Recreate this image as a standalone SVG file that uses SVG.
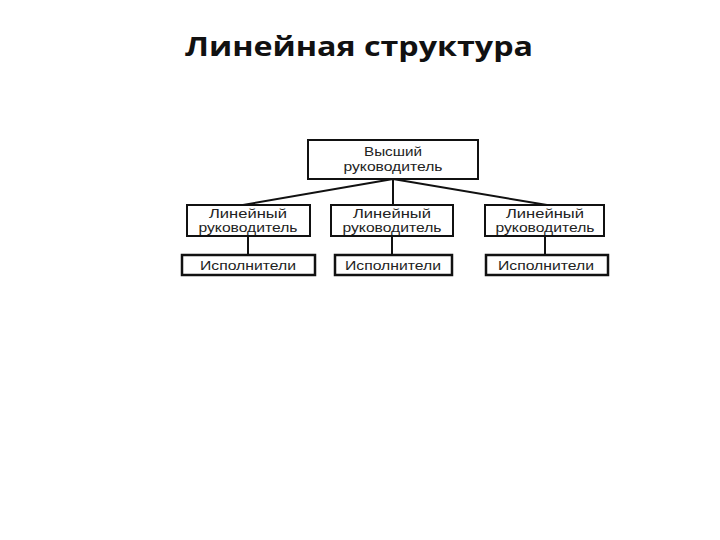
<svg xmlns="http://www.w3.org/2000/svg" width="720" height="540" viewBox="0 0 720 540">
<style>
.box{fill:#fff;stroke:#111;stroke-width:2}
.box2{fill:#fff;stroke:#111;stroke-width:2.5}
.t{font-family:"Liberation Sans",Arial,sans-serif;font-size:12.5px;fill:#222;text-anchor:middle}
.ttl{font-family:"Open Sans","Liberation Sans",sans-serif;font-size:27px;font-weight:bold;fill:#111;text-anchor:middle}
.c{stroke:#111;stroke-width:2;fill:none}
</style>
<rect width="720" height="540" fill="#fff"/>
<text class="ttl" x="359" y="56" textLength="348" lengthAdjust="spacingAndGlyphs">Линейная структура</text>
<g id="connectors">
<line class="c" x1="393" y1="179" x2="243" y2="205"/>
<line class="c" x1="393" y1="179" x2="393" y2="205"/>
<line class="c" x1="393" y1="179" x2="547" y2="205"/>
<line class="c" x1="248" y1="236" x2="248" y2="255"/>
<line class="c" x1="392" y1="236" x2="392" y2="255"/>
<line class="c" x1="545" y1="236" x2="545" y2="255"/>
</g>
<g id="top">
<rect class="box" x="308" y="140" width="170" height="39"/>
<text class="t" x="393" y="156" textLength="58" lengthAdjust="spacingAndGlyphs">Высший</text>
<text class="t" x="393" y="171" textLength="99" lengthAdjust="spacingAndGlyphs">руководитель</text>
</g>
<g id="mid1">
<rect class="box" x="187" y="205" width="123" height="31"/>
<text class="t" x="248" y="218" textLength="78" lengthAdjust="spacingAndGlyphs">Линейный</text>
<text class="t" x="248" y="232" textLength="99" lengthAdjust="spacingAndGlyphs">руководитель</text>
</g>
<g id="mid2">
<rect class="box" x="331" y="205" width="122" height="31"/>
<text class="t" x="392" y="218" textLength="78" lengthAdjust="spacingAndGlyphs">Линейный</text>
<text class="t" x="392" y="232" textLength="99" lengthAdjust="spacingAndGlyphs">руководитель</text>
</g>
<g id="mid3">
<rect class="box" x="485" y="205" width="119" height="31"/>
<text class="t" x="545" y="218" textLength="78" lengthAdjust="spacingAndGlyphs">Линейный</text>
<text class="t" x="545" y="232" textLength="99" lengthAdjust="spacingAndGlyphs">руководитель</text>
</g>
<g id="bot1">
<rect class="box2" x="182" y="255" width="133" height="20"/>
<text class="t" x="248" y="270" textLength="96" lengthAdjust="spacingAndGlyphs">Исполнители</text>
</g>
<g id="bot2">
<rect class="box2" x="335" y="255" width="117" height="20"/>
<text class="t" x="393" y="270" textLength="96" lengthAdjust="spacingAndGlyphs">Исполнители</text>
</g>
<g id="bot3">
<rect class="box2" x="486" y="255" width="122" height="20"/>
<text class="t" x="546" y="270" textLength="96" lengthAdjust="spacingAndGlyphs">Исполнители</text>
</g>
</svg>
